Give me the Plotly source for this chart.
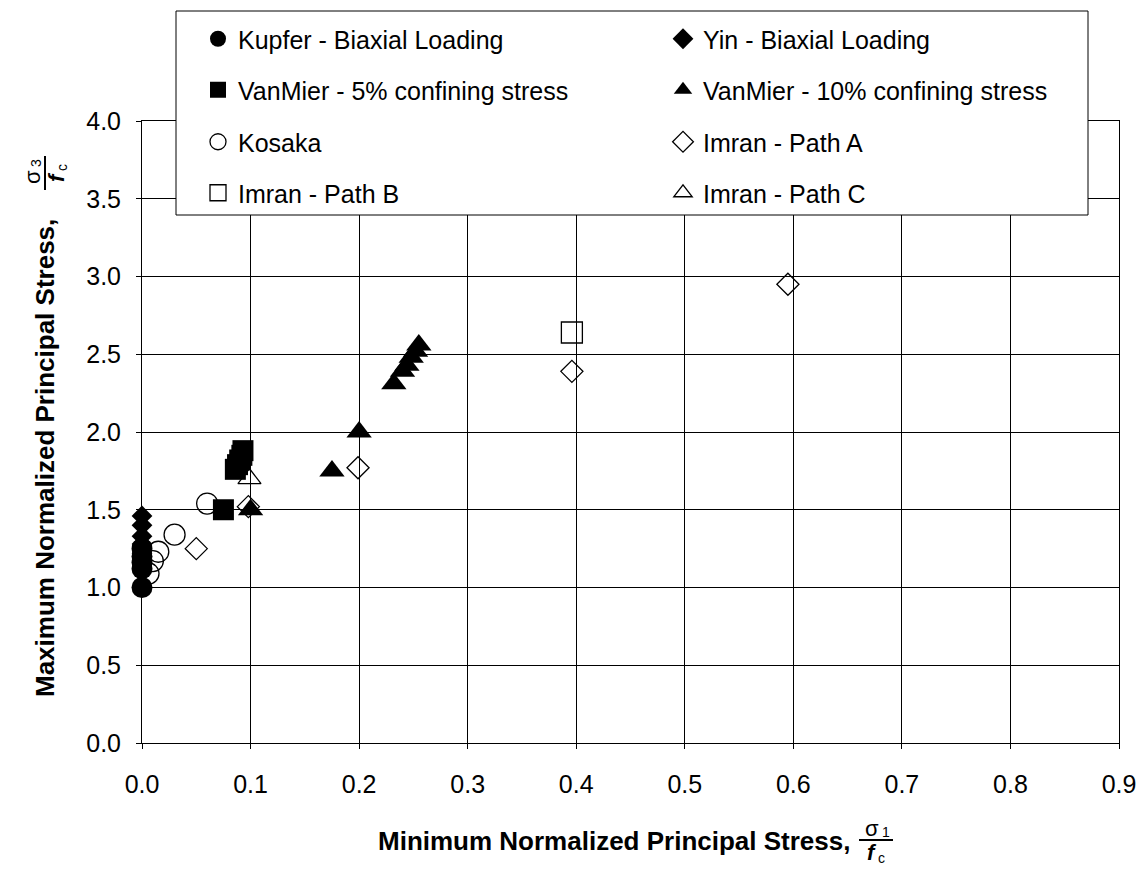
import plotly.graph_objects as go

# ---- data: (min normalized principal stress, max normalized principal stress)
kupfer_x = [0.0, 0.0, 0.0, 0.0, 0.0]
kupfer_y = [1.00, 1.12, 1.16, 1.20, 1.25]

yin_x = [0.0, 0.0, 0.0, 0.0, 0.0, 0.0]
yin_y = [1.46, 1.40, 1.33, 1.28, 1.22, 1.17]

vanmier5_x = [0.075, 0.086, 0.088, 0.090, 0.092, 0.093]
vanmier5_y = [1.50, 1.76, 1.79, 1.82, 1.85, 1.88]

vanmier10_x = [0.100, 0.175, 0.200, 0.232, 0.240, 0.244, 0.248, 0.252, 0.255]
vanmier10_y = [1.50, 1.75, 2.00, 2.31, 2.39, 2.43, 2.48, 2.52, 2.56]

kosaka_x = [0.006, 0.010, 0.015, 0.030, 0.060]
kosaka_y = [1.09, 1.17, 1.23, 1.34, 1.54]

imranA_x = [0.050, 0.098, 0.199, 0.396, 0.595]
imranA_y = [1.25, 1.52, 1.77, 2.39, 2.95]

imranB_x = [0.396]
imranB_y = [2.64]

imranC_x = [0.099]
imranC_y = [1.70]

x_ticks = [0.0, 0.1, 0.2, 0.3, 0.4, 0.5, 0.6, 0.7, 0.8, 0.9]
y_ticks = [0.0, 0.5, 1.0, 1.5, 2.0, 2.5, 3.0, 3.5, 4.0]

FONT = "Liberation Sans, Arial, sans-serif"
W, H = 1147, 871
ML, MR, MT, MB = 142, 28, 121, 128
PW, PH = W - ML - MR, H - MT - MB


def px_x(px):
    """pixel column -> paper x"""
    return (px - ML) / PW


def px_y(py):
    """pixel row -> paper y"""
    return (H - MB - py) / PH


# (name, x, y, symbol, size, outline width, legend row)
series = [
    ("Kupfer - Biaxial Loading", kupfer_x, kupfer_y, "circle", 21, None, "legend"),
    ("Yin - Biaxial Loading", yin_x, yin_y, "diamond", 16, None, "legend"),
    ("VanMier - 5% confining stress", vanmier5_x, vanmier5_y, "square", 21, None, "legend2"),
    ("VanMier - 10% confining stress", vanmier10_x, vanmier10_y, "triangle-up", 22, None, "legend2"),
    ("Kosaka", kosaka_x, kosaka_y, "circle-open", 21, 1.3, "legend3"),
    ("Imran - Path A", imranA_x, imranA_y, "diamond-open", 17, 1.3, "legend3"),
    ("Imran - Path B", imranB_x, imranB_y, "square-open", 21, 1.3, "legend4"),
    ("Imran - Path C", imranC_x, imranC_y, "triangle-up-open", 20, 1.3, "legend4"),
]

fig = go.Figure()
for name, xs, ys, sym, size, lw, leg in series:
    marker = dict(symbol=sym, size=size, color="black")
    if lw is not None:
        marker["line"] = dict(color="black", width=lw)
    else:
        marker["line"] = dict(width=0)
    fig.add_trace(go.Scatter(
        x=xs, y=ys, mode="markers", name=name, legend=leg,
        marker=marker, cliponaxis=False,
    ))

axis_common = dict(
    showline=True, linecolor="black", linewidth=1, mirror=True,
    showgrid=True, gridcolor="black", gridwidth=1,
    ticks="outside", ticklen=5, tickcolor="black", tickwidth=1,
    tickfont=dict(family=FONT, size=25, color="black"),
    zeroline=False, tickformat=".1f",
)

fig.update_xaxes(range=[0, 0.9], tickvals=x_ticks, ticklabelstandoff=14, **axis_common)
fig.update_yaxes(range=[0, 4.0], tickvals=y_ticks, ticklabelstandoff=10, **axis_common)


def note(text, px, py, size, angle=0, anchor="center", weight="normal", style="normal"):
    return dict(text=text, xref="paper", yref="paper", x=px_x(px), y=px_y(py),
                xanchor=anchor, yanchor="middle", showarrow=False, textangle=angle,
                font=dict(family=FONT, size=size, color="black",
                          weight=weight, style=style))


annotations = [
    # x-axis title with the sigma_1 / f_c fraction
    note("Minimum Normalized Principal Stress,", 852, 841, 26, anchor="right", weight="bold"),
    note("σ", 872, 828, 22),
    note("1", 886, 832, 14),
    note("f", 872, 852, 22, weight="bold", style="italic"),
    note("c", 881, 858, 14),
    # y-axis title with the sigma_3 / f_c fraction (rotated)
    note("Maximum Normalized Principal Stress,", 45, 458, 26, angle=-90, weight="bold"),
    note("σ", 32, 177, 22, angle=-90),
    note("3", 36, 163, 14, angle=-90),
    note("f", 56, 177, 22, angle=-90, weight="bold", style="italic"),
    note("c", 62, 168, 14, angle=-90),
]

shapes = [
    # legend frame
    dict(type="rect", xref="paper", yref="paper",
         x0=px_x(176), x1=px_x(1088), y0=px_y(215), y1=px_y(11),
         line=dict(color="black", width=1), fillcolor="white", layer="above"),
    # fraction bars
    dict(type="line", xref="paper", yref="paper",
         x0=px_x(859), x1=px_x(893), y0=px_y(840), y1=px_y(840),
         line=dict(color="black", width=2)),
    dict(type="line", xref="paper", yref="paper",
         x0=px_x(45), x1=px_x(45), y0=px_y(156), y1=px_y(190),
         line=dict(color="black", width=2)),
]


def legend_row(py):
    return dict(
        orientation="h", x=px_x(198), y=px_y(py), xanchor="left", yanchor="middle",
        font=dict(family=FONT, size=25, color="black"),
        entrywidth=420, bgcolor="rgba(0,0,0,0)", borderwidth=0,
        itemsizing="trace",
    )


fig.update_layout(
    width=W, height=H,
    margin=dict(l=ML, r=MR, t=MT, b=MB, autoexpand=False),
    paper_bgcolor="white", plot_bgcolor="white",
    font=dict(family=FONT, color="black"),
    showlegend=True,
    legend=legend_row(39),
    legend2=legend_row(90),
    legend3=legend_row(142),
    legend4=legend_row(193),
    annotations=annotations,
    shapes=shapes,
)

fig.write_html("out.html")
